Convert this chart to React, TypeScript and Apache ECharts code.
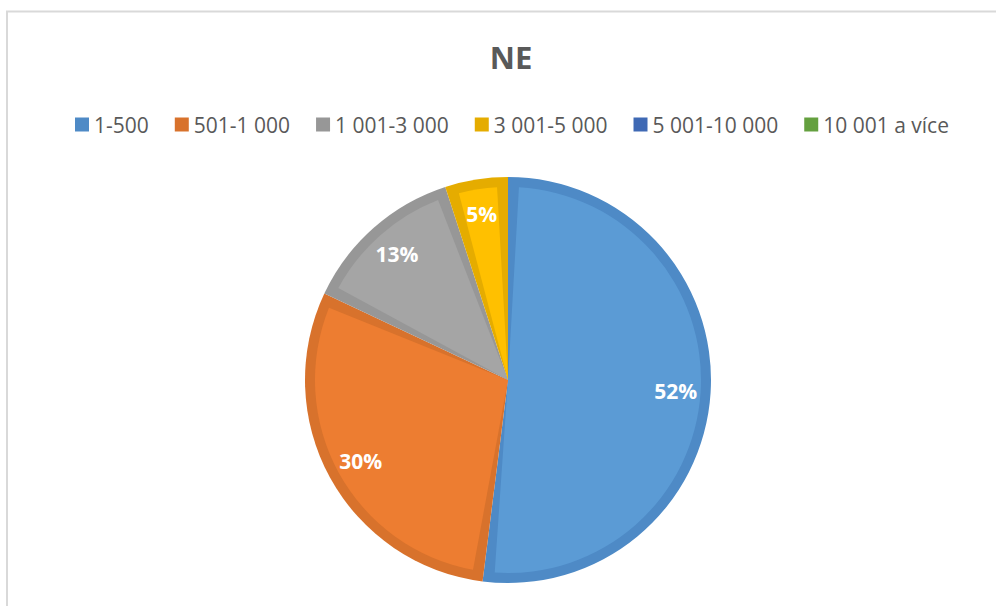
import React, { useEffect, useRef } from "react";
import * as echarts from "echarts";

const titleText = "NE";
const categories = ["1-500", "501-1 000", "1 001-3 000", "3 001-5 000", "5 001-10 000", "10 001 a více"];
const values = [52, 30, 13, 5, 0, 0];
const darkColors = ["#4E8AC6", "#D8722C", "#979797", "#E5AC00", "#3F69B4", "#64A03F"];
const lightColors = ["#5B9BD5", "#ED7D31", "#A5A5A5", "#FFC000", "#4472C4", "#70AD47"];

const FONT = "'Open Sans', 'Noto Sans', sans-serif";

export default function App() {
  const ref = useRef<HTMLDivElement>(null);
  useEffect(() => {
    if (!ref.current) return;
    const chart = echarts.init(ref.current, null, { renderer: "svg" });
    const center = [508, 380];
    const bottomData = categories.map((name, i) => ({
      name,
      value: values[i],
      itemStyle: { color: darkColors[i] },
    }));
    const nonZero = categories
      .map((name, i) => ({ name, value: values[i], i }))
      .filter((d) => d.value > 0);
    chart.setOption({
      animation: false,
      backgroundColor: "#ffffff",
      title: {
        text: titleText,
        left: 506,
        textAlign: "center",
        top: 36,
        textStyle: { fontFamily: FONT, fontSize: 31, fontWeight: "bold", color: "#595959" },
      },
      legend: {
        data: categories,
        top: 109,
        left: 70,
        icon: "rect",
        itemWidth: 14,
        itemHeight: 14,
        itemGap: 26,
        textStyle: { fontFamily: FONT, fontSize: 21, color: "#595959", padding: [0, 0, 0, 0] },
        selectedMode: false,
      },
      graphic: [
        {
          type: "rect",
          shape: { x: 7, y: 11.5, width: 1200, height: 800 },
          style: { fill: "none", stroke: "#d9d9d9", lineWidth: 2 },
          silent: true,
        },
      ],
      series: [
        {
          name: "dark",
          type: "pie",
          center,
          radius: [0, 203],
          startAngle: 90,
          clockwise: true,
          silent: true,
          label: { show: false },
          labelLine: { show: false },
          itemStyle: { borderWidth: 0 },
          data: bottomData,
        },
        {
          name: "light",
          type: "pie",
          center,
          radius: [0, 193],
          startAngle: 90,
          clockwise: true,
          padAngle: 6.5,
          silent: true,
          label: { show: false },
          labelLine: { show: false },
          itemStyle: { borderWidth: 0 },
          data: nonZero.map((d) => ({ name: d.name, value: d.value, itemStyle: { color: lightColors[d.i] } })),
        },
        {
          name: "labels",
          type: "pie",
          center,
          radius: [130, 200],
          startAngle: 90,
          clockwise: true,
          silent: true,
          percentPrecision: 0,
          itemStyle: { color: "rgba(0,0,0,0)", borderWidth: 0 },
          label: {
            show: true,
            position: "inside",
            formatter: "{d}%",
            color: "#ffffff",
            fontFamily: FONT,
            fontSize: 21,
            fontWeight: "bold",
          },
          labelLine: { show: false },
          data: nonZero.map((d) => ({ name: d.name, value: d.value })),
        },
      ],
    });
    return () => chart.dispose();
  }, []);
  return (
    <div
      ref={ref}
      style={{ position: "fixed", left: 0, top: 0, width: 996, height: 606 }}
    />
  );
}
